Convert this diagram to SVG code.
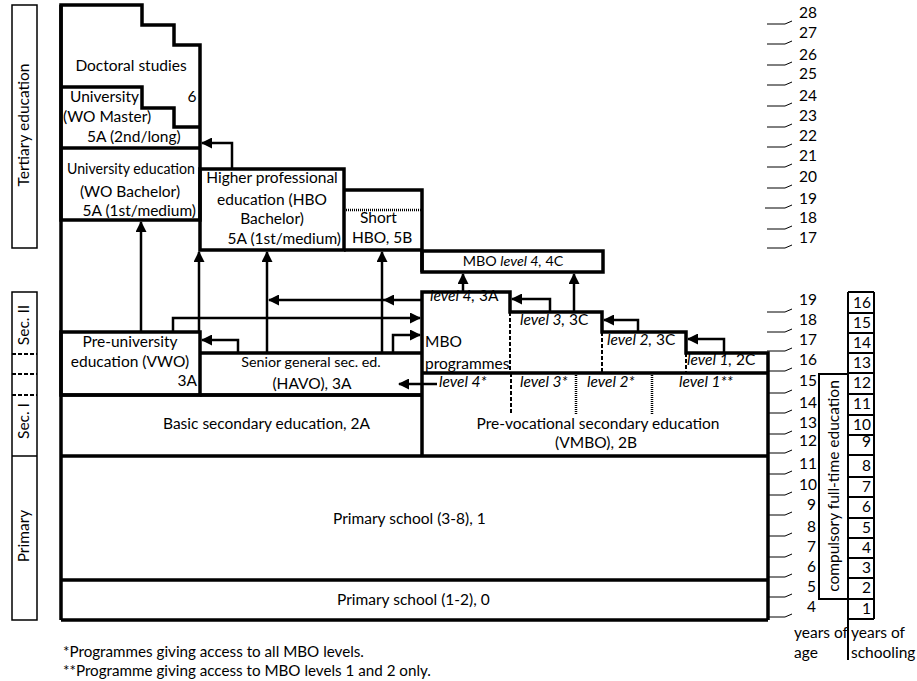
<svg xmlns="http://www.w3.org/2000/svg" width="917" height="681" viewBox="0 0 917 681">
<style>
text{font-family:Lato,"Liberation Sans",sans-serif;font-size:15.5px;fill:#000}
.s{font-size:14.3px}
.n{font-size:15.5px}
.f{font-size:15.2px}
.i{font-style:italic}
.c{text-anchor:middle}
.e{text-anchor:end}
.box{fill:none;stroke:#000;stroke-width:3.5;stroke-linejoin:miter}
.thin{fill:none;stroke:#000;stroke-width:1.5}
.sch{fill:none;stroke:#000;stroke-width:2}
.arr{fill:none;stroke:#000;stroke-width:2.5;marker-end:url(#ah)}
.dash{fill:none;stroke:#000;stroke-width:2;stroke-dasharray:4 2}
.dot{fill:none;stroke:#000;stroke-width:2.5;stroke-dasharray:1 1}
.tick{fill:none;stroke:#000;stroke-width:1}
</style>
<defs>
<marker id="ah" markerUnits="userSpaceOnUse" markerWidth="11" markerHeight="11" refX="10" refY="5.5" orient="auto">
<path d="M0,0 L11,5.5 L0,11 Z" fill="#000"/>
</marker>
</defs>

<g id="side-labels">
<rect class="thin" x="12" y="5" width="25" height="243"/>
<text transform="translate(29,125) rotate(-90)" class="c">Tertiary education</text>
<path class="thin" d="M12,292 V620 H37 V292 Z M12,456 H37"/>
<path class="dash" d="M12,354 H37 M12,374 H37 M12,395 H37"/>
<text transform="translate(29,325) rotate(-90)" class="c">Sec. II</text>
<text transform="translate(29,421) rotate(-90)" class="c">Sec. I</text>
<text transform="translate(29,536) rotate(-90)" class="c">Primary</text>
</g>

<g id="doctoral">
<path class="box" d="M61,5 H142 V25 H174 V45 H200 V220 H61 Z"/>
<path class="box" d="M61,87 H142 V108 H174 V127 H200"/>
<text x="131" y="71" class="c">Doctoral studies</text>
<text x="192" y="102" class="c">6</text>
</g>
<g id="wo-master">
<text x="70" y="102">University</text>
<text x="63" y="122">(WO Master)</text>
<text x="87" y="142">5A (2nd/long)</text>
</g>
<g id="wo-bachelor">
<path class="box" d="M61,148 H200"/>
<text x="67" y="174" textLength="128" lengthAdjust="spacingAndGlyphs">University education</text>
<text x="130" y="197" class="c">(WO Bachelor)</text>
<text x="196" y="216" class="e">5A (1st/medium)</text>
</g>
<g id="hbo">
<rect class="box" x="200" y="169" width="144" height="81"/>
<text x="272" y="183" class="c">Higher professional</text>
<text x="272" y="205" class="c">education (HBO</text>
<text x="272" y="224" class="c">Bachelor)</text>
<text x="341" y="244" class="e">5A (1st/medium)</text>
</g>
<g id="short-hbo">
<path class="box" d="M344,190 H422 V272 M344,250 H422"/>
<path class="dot" d="M344,210 H422"/>
<text x="360" y="223">Short</text>
<text x="352" y="243">HBO, 5B</text>
</g>
<g id="mbo-4c">
<rect class="box" x="422" y="251" width="181" height="21"/>
<text x="513" y="266" class="c s">MBO <tspan class="i">level 4,</tspan>  4C</text>
</g>
<g id="vwo">
<rect class="box" x="61" y="332" width="139" height="63"/>
<text x="130" y="347" class="c">Pre-university</text>
<text x="130" y="367" class="c">education (VWO)</text>
<text x="197" y="386" class="e">3A</text>
</g>
<g id="havo">
<path class="box" d="M200,353 H422 M200,395 H422"/>
<text x="311" y="367" class="c s">Senior general sec. ed.</text>
<text x="312" y="389" class="c">(HAVO), 3A</text>
</g>
<g id="mbo">
<path class="box" d="M422,456 V292 H510 V312 H602 V332 H686 V353 H768 V620 M422,373 H768"/>
<path class="dash" d="M510,312 V373 M602,332 V373 M686,353 V373"/>
<text x="430" y="301"><tspan class="i">level 4,</tspan>  3A</text>
<text x="520" y="325"><tspan class="i">level 3,</tspan>  3C</text>
<text x="607" y="345"><tspan class="i">level 2,</tspan>  3C</text>
<text x="687" y="365"><tspan class="i">level 1,</tspan>  2C</text>
<text x="425" y="347">MBO</text>
<text x="425" y="369">programmes</text>
</g>
<g id="vmbo">
<path class="dash" d="M511,373 V415"/>
<path class="dot" d="M576,373 V415 M652,373 V415"/>
<text x="439" y="387" class="i">level 4*</text>
<text x="520" y="387" class="i">level 3*</text>
<text x="587" y="387" class="i">level 2*</text>
<text x="679" y="387" class="i">level 1**</text>
<text x="598" y="429" class="c">Pre-vocational secondary education</text>
<text x="596" y="448" class="c">(VMBO), 2B</text>
</g>
<g id="basic-secondary">
<path class="box" d="M61,395 H422 M61,456 H768"/>
<text x="163" y="429">Basic secondary education, 2A</text>
</g>
<g id="primary-3-8">
<text x="333" y="524">Primary school (3-8), 1</text>
</g>
<g id="primary-1-2">
<path class="box" d="M61,580 H768 M61,620 H768 M61,5 V620"/>
<text x="337" y="605">Primary school (1-2), 0</text>
</g>

<g id="connectors">
<path class="arr" d="M232,169 V143 H202"/>
<path class="arr" d="M141,332 V222"/>
<path class="arr" d="M199,332 V252"/>
<path class="arr" d="M267,353 V252"/>
<path class="arr" d="M382,353 V252"/>
<path class="arr" d="M422,300 H384"/>
<path class="arr" d="M384,300 H269"/>
<path class="arr" d="M173,332 V318 H420"/>
<path class="arr" d="M393,353 V335 H420"/>
<path class="arr" d="M437,384 H399"/>
<path class="arr" d="M238,353 V340 H202"/>
<path class="arr" d="M550,312 V299 H512"/>
<path class="arr" d="M463,292 V274"/>
<path class="arr" d="M574,312 V274"/>
<path class="arr" d="M638,332 V320 H604"/>
<path class="arr" d="M724,353 V339 H688"/>
</g>

<g id="age-scale">
<path class="tick" d="M767,24 h18 l7,-3 M767,44 h18 l7,-3 M767,65 h18 l7,-3 M767,85 h18 l7,-3 M767,106 h18 l7,-3 M767,127 h18 l7,-3 M767,147 h18 l7,-3 M767,167 h18 l7,-3 M767,188 h18 l7,-3 M765,208 h20 l7,-3 M767,229 h18 l7,-3 M767,248 h18 l7,-3"/>
<path class="tick" d="M767,312 h18 l7,-3 M767,332 h18 l7,-3 M767,351 h18 l7,-3 M767,371 h18 l7,-3 M767,393 h18 l7,-3 M767,413 h18 l7,-3 M767,434 h18 l7,-3 M767,453 h18 l7,-3 M767,474 h18 l7,-3 M767,495 h18 l7,-3 M767,515 h18 l7,-3 M767,536 h18 l7,-3 M767,557 h18 l7,-3 M767,577 h18 l7,-3 M767,597 h18 l7,-3 M767,617 h18 l7,-3"/>
<text x="799" y="18" class="n">28</text>
<text x="799" y="38" class="n">27</text>
<text x="799" y="60" class="n">26</text>
<text x="799" y="79" class="n">25</text>
<text x="799" y="101" class="n">24</text>
<text x="799" y="121" class="n">23</text>
<text x="799" y="141" class="n">22</text>
<text x="799" y="161" class="n">21</text>
<text x="799" y="182" class="n">20</text>
<text x="799" y="204" class="n">19</text>
<text x="799" y="223" class="n">18</text>
<text x="799" y="243" class="n">17</text>
<text x="799" y="305" class="n">19</text>
<text x="799" y="325" class="n">18</text>
<text x="799" y="345" class="n">17</text>
<text x="799" y="365" class="n">16</text>
<text x="799" y="386" class="n">15</text>
<text x="799" y="408" class="n">14</text>
<text x="799" y="428" class="n">13</text>
<text x="799" y="446" class="n">12</text>
<text x="799" y="469" class="n">11</text>
<text x="799" y="490" class="n">10</text>
<text x="807" y="510" class="n">9</text>
<text x="807" y="532" class="n">8</text>
<text x="807" y="552" class="n">7</text>
<text x="807" y="572" class="n">6</text>
<text x="807" y="592" class="n">5</text>
<text x="807" y="612" class="n">4</text>
<text x="794" y="638" class="n">years of</text>
<text x="794" y="658" class="n">age</text>
</g>

<g id="compulsory">
<path class="sch" d="M848,374 H819 V599 H848"/>
<text transform="translate(839,486) rotate(-90)" class="c">compulsory full-time education</text>
</g>

<g id="schooling-scale">
<path class="sch" d="M848,292 V660 M874,292 V619 M848,292 H874 M848,313 H874 M848,333 H874 M848,353 H874 M848,373 H874 M848,394 H874 M848,415 H874 M848,435 H874 M848,455 H874 M848,477 H874 M848,497 H874 M848,518 H874 M848,538 H874 M848,558 H874 M848,578 H874 M848,599 H874 M848,619 H874"/>
<text x="871" y="308" class="e n">16</text>
<text x="871" y="328" class="e n">15</text>
<text x="871" y="348" class="e n">14</text>
<text x="871" y="368" class="e n">13</text>
<text x="871" y="388" class="e n">12</text>
<text x="871" y="409" class="e n">11</text>
<text x="871" y="430" class="e n">10</text>
<text x="871" y="447" class="e n">9</text>
<text x="871" y="471" class="e n">8</text>
<text x="871" y="492" class="e n">7</text>
<text x="871" y="512" class="e n">6</text>
<text x="871" y="533" class="e n">5</text>
<text x="871" y="553" class="e n">4</text>
<text x="871" y="573" class="e n">3</text>
<text x="871" y="593" class="e n">2</text>
<text x="871" y="614" class="e n">1</text>
<text x="851" y="638" class="n">years of</text>
<text x="851" y="658" class="n">schooling</text>
</g>

<g id="footnotes">
<text x="63" y="657" class="f">*Programmes giving access to all MBO levels.</text>
<text x="63" y="676" class="f">**Programme giving access to MBO levels 1 and 2 only.</text>
</g>
</svg>
